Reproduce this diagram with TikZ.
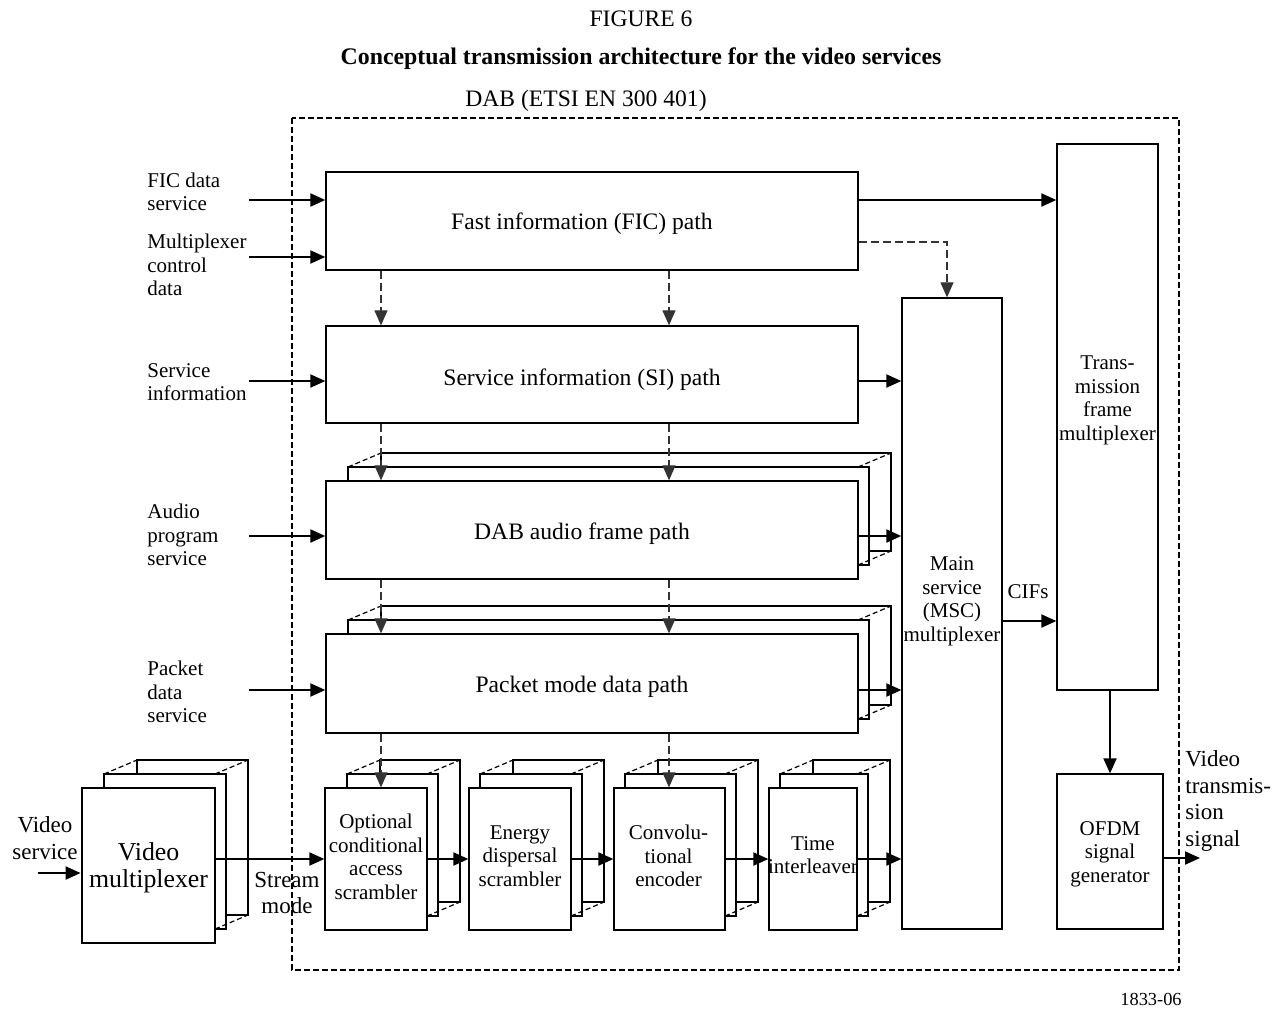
\documentclass[tikz,border=0pt]{standalone}
\usepackage{fontspec}
\setmainfont{Liberation Serif}
\usetikzlibrary{arrows.meta}
\tikzset{
 box/.style={draw, line width=0.65pt, fill=white, inner sep=0pt},
 thickbox/.style={box, line width=1.4pt},
 arr/.style={line width=1pt, -{Triangle[length=7.5pt,width=6.5pt]}},
 dashar/.style={line width=0.6pt, draw=black!80, dash pattern=on 4pt off 2pt, -{Triangle[length=7.5pt,width=6.5pt]}},
 lay/.style={line width=0.65pt, fill=white},
 laydash/.style={line width=0.6pt, dash pattern=on 2.5pt off 1.5pt},
 outerframe/.style={line width=0.9pt, dash pattern=on 3pt off 1.5pt},
 lbl/.style={font=\fontsize{10.5}{11.75}\selectfont, align=left, anchor=west, inner sep=0pt},
 btxt/.style={font=\fontsize{11.8}{14}\selectfont, inner sep=0pt},
 stxt/.style={font=\fontsize{10.5}{11.75}\selectfont, align=center, inner sep=0pt},
 vtxt/.style={font=\fontsize{12.9}{13.4}\selectfont, align=center, inner sep=0pt},
 vlbl/.style={font=\fontsize{11.5}{13.2}\selectfont, align=center, inner sep=0pt},
}
% name x1 y1 x2 y2 boxstyle textstyle shift text
\newcommand\bx[9]{%
 \node[#6,minimum width={(#4-#2)*0.5pt},minimum height={(#5-#3)*0.5pt}] (#1) at ({(#2+#4)/2},{(#3+#5)/2}) {};
 \node[#7] (#1t) at ([shift={#8}]#1.center) {#9};}
% x1 y1 x2 y2 a : back layers of a stacked box
\newcommand\layers[5]{%
 \filldraw[lay] ({#1+#5+33},{#2-28}) rectangle ({#3+33},{#4-28});
 \filldraw[lay] ({#1+#5},{#2-14}) rectangle ({#3+11},{#4-14});
 \draw[laydash] ({#1+#5},{#2-14}) -- ({#1+#5+33},{#2-28});
 \draw[laydash] (#3,{#2-14}) -- ({#3+33},{#2-28});
 \draw[laydash] (#3,{#4-14}) -- ({#3+33},{#4-28});}
\begin{document}
\begin{tikzpicture}[x=0.5pt,y=-0.5pt]
\useasboundingbox (0,0) rectangle (1284,1008);
% titles
\node[btxt] (fig) at (641,19) {FIGURE 6};
\node[btxt,font=\fontsize{11.9}{14}\selectfont\bfseries] (title) at (641,59) {Conceptual transmission architecture for the video services};
\node[btxt] (dab) at (586,101) {DAB (ETSI EN 300 401)};
\node[font=\fontsize{9.2}{11}\selectfont, inner sep=0pt] (code) at (1151,999) {1833-06};
% outer DAB frame
\draw[outerframe] (292,118) rectangle (1179,970);
% back layers
\layers{326}{481}{858}{579}{22}
\layers{326}{634}{858}{733}{22}
\layers{82}{788}{215}{943}{22}
\layers{325}{788}{427}{930}{22}
\layers{469}{788}{571}{930}{11}
\layers{614}{788}{725}{930}{11}
\layers{769}{788}{857}{930}{11}
% boxes
\bx{fic}{326}{172}{858}{270}{box}{btxt}{(-10,3)}{Fast information (FIC) path}
\bx{si}{326}{326}{858}{423}{box}{btxt}{(-10,5)}{Service information (SI) path}
\bx{aud}{326}{481}{858}{579}{box}{btxt}{(-10,4)}{DAB audio frame path}
\bx{pkt}{326}{634}{858}{733}{box}{btxt}{(-10,3)}{Packet mode data path}
\bx{msc}{902}{298}{1002}{929}{box}{stxt}{(0,-12)}{Main\\service\\(MSC)\\multiplexer}
\bx{tfm}{1057}{144}{1158}{690}{box}{stxt}{(0,-16.5)}{Trans-\\mission\\frame\\multiplexer}
\bx{ofdm}{1057}{774}{1163}{929}{box}{stxt}{(0,2.5)}{OFDM\\signal\\generator}
\bx{vmux}{82}{788}{215}{943}{thickbox}{vtxt}{(0,2)}{Video\\multiplexer}
\bx{ca}{325}{788}{427}{930}{box}{stxt}{(0,-2)}{Optional\\conditional\\access\\scrambler}
\bx{en}{469}{788}{571}{930}{box}{stxt}{(0,-3)}{Energy\\dispersal\\scrambler}
\bx{cv}{614}{788}{725}{930}{box}{stxt}{(-1,-3)}{Convolu-\\tional\\encoder}
\bx{ti}{769}{788}{857}{930}{box}{stxt}{(0,-4)}{Time\\interleaver}
% left input labels
\node[lbl] (l1) at (147,192) {FIC data\\service};
\node[lbl] (l2) at (147,265) {Multiplexer\\control\\data};
\node[lbl] (l3) at (147,382) {Service\\information};
\node[lbl] (l4) at (147,535) {Audio\\program\\service};
\node[lbl] (l5) at (147,692) {Packet\\data\\service};
\node[vlbl] (vs) at (45,838) {Video\\service};
\node[vlbl] (sm) at (287,893) {Stream\\mode};
\node[vlbl,align=left,anchor=west] (vts) at (1185,801) {Video\\transmis-\\sion\\signal};
\node[stxt] (cifs) at (1028,592) {CIFs};
% input arrows
\coordinate (in1) at (249,200);
\coordinate (in2) at (249,257);
\coordinate (in3) at (249,381);
\coordinate (in4) at (249,536);
\coordinate (in5) at (249,690);
\coordinate (vin) at (38,873);
\coordinate (out) at (1200,858);
\draw[arr] (in1) -- (in1 -| fic.west);
\draw[arr] (in2) -- (in2 -| fic.west);
\draw[arr] (in3) -- (in3 -| si.west);
\draw[arr] (in4) -- (in4 -| aud.west);
\draw[arr] (in5) -- (in5 -| pkt.west);
\draw[arr] (vin) -- (vin -| vmux.west);
% outputs of path boxes
\draw[arr] (fic.east |- in1) -- (tfm.west |- in1);
\draw[arr] (si.east |- in3) -- (msc.west |- in3);
\draw[arr] (aud.east |- in4) -- (msc.west |- in4);
\draw[arr] (pkt.east |- in5) -- (msc.west |- in5);
\draw[dashar] ([yshift=-10.5pt]fic.east) -| ([xshift=-2.5pt]msc.north);
% dashed control arrows
\coordinate (ca1) at (381,0);
\coordinate (ca2) at (669,0);
\draw[dashar] (fic.south -| ca1) -- (si.north -| ca1);
\draw[dashar] (fic.south -| ca2) -- (si.north -| ca2);
\draw[dashar] (si.south -| ca1) -- (aud.north -| ca1);
\draw[dashar] (si.south -| ca2) -- (aud.north -| ca2);
\draw[dashar] (aud.south -| ca1) -- (pkt.north -| ca1);
\draw[dashar] (aud.south -| ca2) -- (pkt.north -| ca2);
\draw[dashar] (pkt.south -| ca1) -- (ca.north -| ca1);
\draw[dashar] (pkt.south -| ca2) -- (cv.north -| ca2);
% stream chain
\draw[arr] (vmux.east |- ca.west) -- (ca.west);
\draw[arr] (ca.east) -- (en.west);
\draw[arr] (en.east) -- (cv.west);
\draw[arr] (cv.east) -- (ti.west);
\draw[arr] (ti.east) -- (ti.east -| msc.west);
% MSC, TFM, OFDM
\draw[arr] ([yshift=-3.75pt]msc.east) coordinate (cif) -- (cif -| tfm.west);
\draw[arr] (tfm.south -| ofdm.north) -- (ofdm.north);
\draw[arr] (out -| ofdm.east) -- (out);
\end{tikzpicture}
\end{document}
